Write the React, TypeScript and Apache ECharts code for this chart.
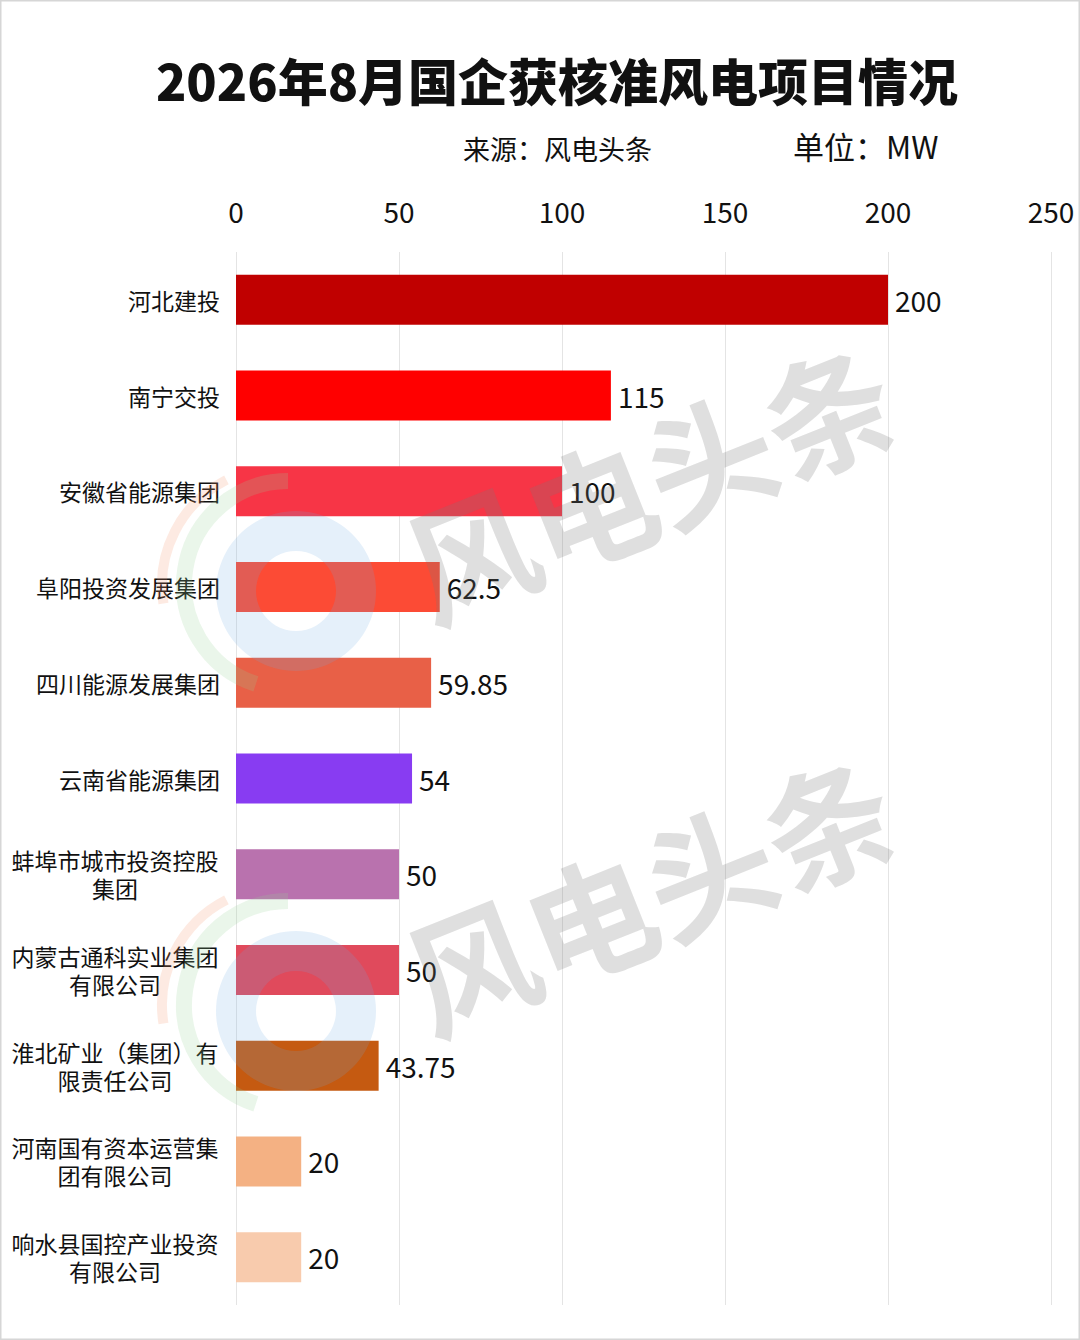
import React, { useEffect, useRef } from "react";
import * as echarts from "echarts";

const titleText = "2026年8月国企获核准风电项目情况";
const sourceText = "来源：风电头条";
const unitText = "单位：MW";
const watermarkText = "风电头条";

const categories = [
  "河北建投",
  "南宁交投",
  "安徽省能源集团",
  "阜阳投资发展集团",
  "四川能源发展集团",
  "云南省能源集团",
  "蚌埠市城市投资控股集团",
  "内蒙古通科实业集团有限公司",
  "淮北矿业（集团）有限责任公司",
  "河南国有资本运营集团有限公司",
  "响水县国控产业投资有限公司",
];
const values = [200, 115, 100, 62.5, 59.85, 54, 50, 50, 43.75, 20, 20];
const barColors = [
  "#C00000",
  "#FF0000",
  "#F73546",
  "#FC4B35",
  "#E86047",
  "#883CF2",
  "#B972AE",
  "#E04A5C",
  "#C55A11",
  "#F4B183",
  "#F8CBAD",
];
const axisTicks = [0, 50, 100, 150, 200, 250];

const FONT = "'Noto Sans CJK SC', 'Noto Sans', sans-serif";
const PER_LINE = 9;

function wrapLabel(name: string): string {
  if (name.length <= PER_LINE) return name;
  const parts: string[] = [];
  for (let i = 0; i < name.length; i += PER_LINE) parts.push(name.slice(i, i + PER_LINE));
  return parts.join("\n");
}

export default function App() {
  const ref = useRef<HTMLDivElement>(null);
  useEffect(() => {
    document.body.style.margin = "0";
    if (!ref.current) return;
    const chart = echarts.init(ref.current, undefined, { renderer: "svg" });
    const wm = (cx: number, cy: number) => ({
      type: "text",
      x: cx,
      y: cy,
      rotation: 0.38,
      z: 100,
      silent: true,
      style: {
        text: watermarkText,
        fontSize: 128,
        fontWeight: "bold",
        fontFamily: FONT,
        fill: "rgba(120,120,120,0.24)",
        align: "center",
        verticalAlign: "middle",
      },
    });
    const logo = (cx: number, cy: number) => [
      {
        type: "arc",
        z: 99,
        silent: true,
        shape: { cx, cy, r: 118, startAngle: Math.PI * 0.95, endAngle: Math.PI * 1.35 },
        style: { stroke: "rgba(245,150,110,0.2)", lineWidth: 10, fill: "none" },
      },
      {
        type: "arc",
        z: 99,
        silent: true,
        shape: { cx: cx + 8, cy, r: 104, startAngle: Math.PI * 0.6, endAngle: Math.PI * 1.5 },
        style: { stroke: "rgba(150,210,150,0.2)", lineWidth: 16, fill: "none" },
      },
      {
        type: "ring",
        z: 99,
        silent: true,
        shape: { cx: cx + 16, cy: cy + 6, r: 80, r0: 40 },
        style: { fill: "rgba(110,170,225,0.18)" },
      },
    ];
    const yData = categories.map((c) =>
      c.length > PER_LINE
        ? { value: c, textStyle: { align: "center", padding: [0, 210, 0, 0] } }
        : { value: c }
    );
    chart.setOption({
      animation: false,
      backgroundColor: "#ffffff",
      title: [
        {
          text: titleText,
          left: 552,
          top: 49,
          textAlign: "center",
          textStyle: { fontSize: 50, fontWeight: 900, color: "#111", fontFamily: FONT },
        },
        {
          text: sourceText,
          left: 458,
          top: 130,
          textStyle: { fontSize: 27, fontWeight: "normal", color: "#111", fontFamily: FONT },
        },
        {
          text: unitText,
          left: 788,
          top: 125,
          textStyle: { fontSize: 31, fontWeight: "normal", color: "#111", fontFamily: FONT },
        },
      ],
      graphic: [
        {
          type: "rect",
          silent: true,
          shape: { x: 0.5, y: 0.5, width: 1079, height: 1339 },
          style: { fill: "none", stroke: "#d6d6d6", lineWidth: 2 },
        },
        ...logo(280, 585),
        ...logo(280, 1005),
        wm(648, 478),
        wm(648, 890),
      ],
      grid: { left: 236, right: 29, top: 252, bottom: 35, containLabel: false },
      xAxis: {
        type: "value",
        position: "top",
        min: 0,
        max: 250,
        interval: 50,
        axisLine: { show: false },
        axisTick: { show: false },
        splitLine: { show: true, lineStyle: { color: "#e4e4e4", width: 1 } },
        axisLabel: {
          fontSize: 28,
          color: "#111",
          margin: 27,
          fontFamily: FONT,
          formatter: (v: number) => (axisTicks.includes(v) ? String(v) : ""),
        },
      },
      yAxis: {
        type: "category",
        inverse: true,
        data: yData,
        axisLine: { show: false },
        axisTick: { show: false },
        axisLabel: {
          fontSize: 23,
          color: "#111",
          margin: 16,
          lineHeight: 28,
          fontFamily: FONT,
          formatter: (v: string) => wrapLabel(v),
        },
      },
      series: [
        {
          type: "bar",
          barWidth: 50,
          data: values.map((v, i) => ({ value: v, itemStyle: { color: barColors[i] } })),
          label: {
            show: true,
            position: "right",
            distance: 7,
            fontSize: 28,
            color: "#111",
            fontFamily: FONT,
          },
        },
      ],
    });
    return () => chart.dispose();
  }, []);
  return (
    <div
      ref={ref}
      style={{ position: "absolute", left: 0, top: 0, width: 1080, height: 1340 }}
    />
  );
}
